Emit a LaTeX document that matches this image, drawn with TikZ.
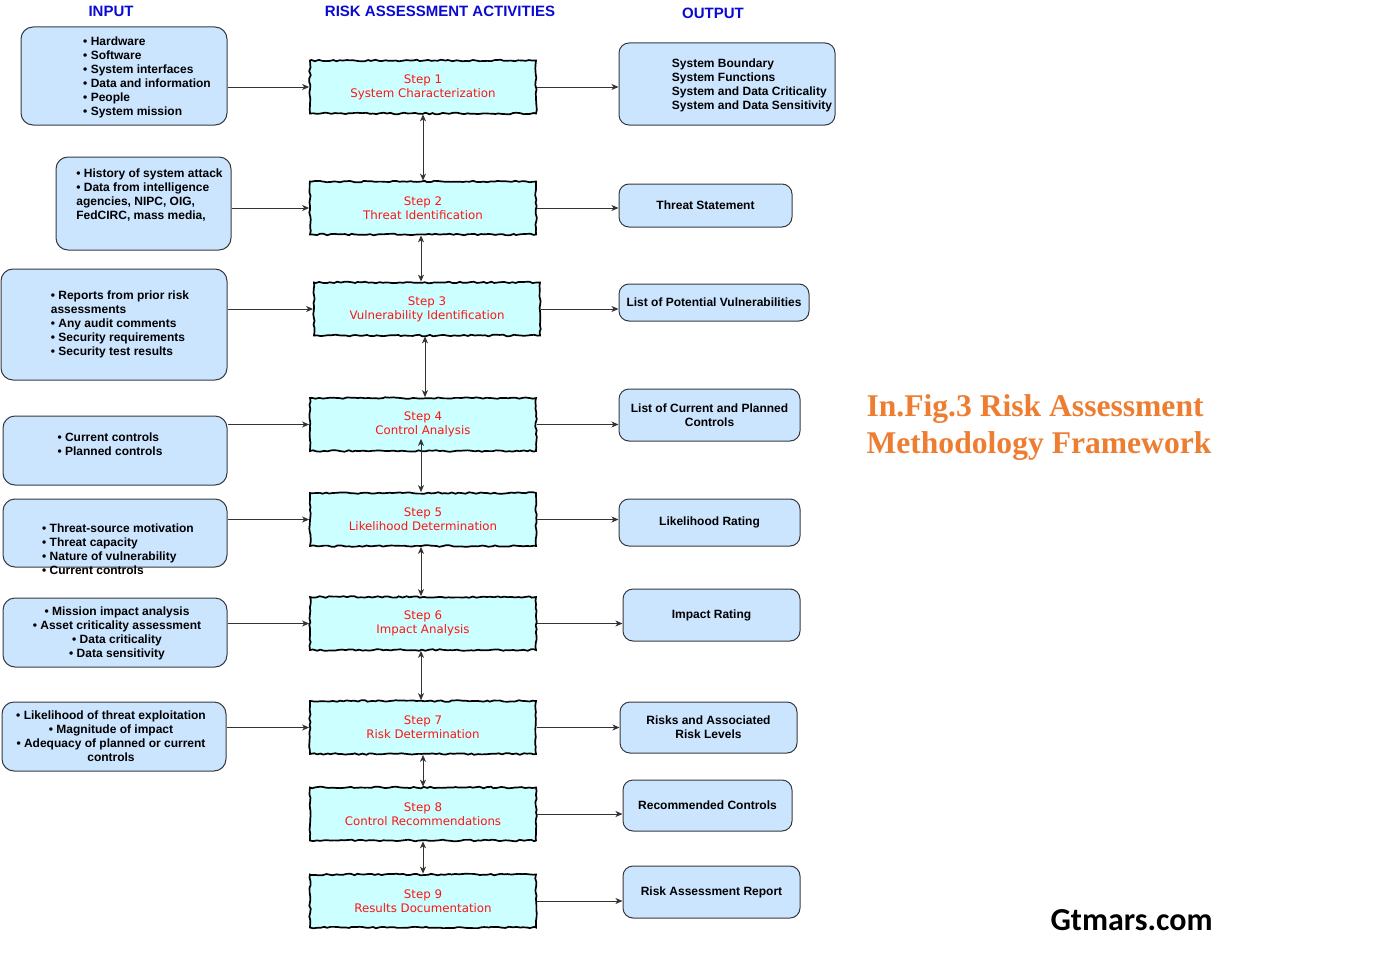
\documentclass[tikz,border=0pt]{standalone}
\usepackage{fontspec}
\setmainfont{Liberation Sans}
\newfontfamily\stepfont{DejaVu Sans}
\newfontfamily\capfont{Liberation Serif}
\newfontfamily\sitefont{Carlito}
\usetikzlibrary{arrows.meta,decorations.pathmorphing}

% text block inside a box, shifted by (dx,dy)
\newcommand{\boxtxt}[4]{\hspace*{#2}\raisebox{#3}[\height][\depth]{\begin{tabular}{@{}#1@{}}#4\end{tabular}}\hspace*{-#2}}

\begin{document}
\begin{tikzpicture}[x=1pt, y=-1pt,
    inbox/.style={draw=boxline, fill=inblue, line width=1pt, rounded corners=12pt,
        inner sep=0pt, font=\bfseries\fontsize{12}{14}\selectfont},
    outbox/.style={draw=boxline, fill=inblue, line width=1pt, rounded corners=10pt,
        inner sep=0pt, align=center, font=\bfseries\fontsize{12}{14}\selectfont},
    stepbox/.style={draw=black, fill=stepcyan, line width=1.7pt,
        decorate, decoration={random steps, segment length=3.5pt, amplitude=0.8pt},
        minimum width=226pt, minimum height=53pt, align=center,
        text=stepred, font=\stepfont\fontsize{11.8}{14}\selectfont},
    head/.style={text=headblue, font=\bfseries\fontsize{15}{18}\selectfont},
    link/.style={draw=linegray, line width=1pt, -{Stealth[length=7pt,width=6pt,inset=2pt]}},
    dlink/.style={draw=linegray, line width=1pt,
        {Stealth[length=7pt,width=6pt,inset=2pt]}-{Stealth[length=7pt,width=6pt,inset=2pt]}}]
\definecolor{inblue}{RGB}{204,229,255}
\definecolor{boxline}{RGB}{54,57,61}
\definecolor{stepcyan}{RGB}{204,255,255}
\definecolor{stepred}{RGB}{255,20,20}
\definecolor{headblue}{RGB}{10,10,210}
\definecolor{capor}{RGB}{237,125,49}
\definecolor{linegray}{RGB}{51,51,51}
\pgfmathsetseed{7}

\useasboundingbox (0,0) rectangle (1400,958);

% ===================== titoli =====================
\node[head] (hin)   at (111,11) {INPUT};
\node[head] (hrisk) at (440,11) {RISK ASSESSMENT ACTIVITIES};
\node[head] (hout)  at (713,13) {OUTPUT};

% ===================== input =====================
\node[inbox, minimum width=206pt, minimum height=98pt] (i1) at (124,76)
  {\boxtxt{l}{23pt}{-1.5pt}{\textbullet\ Hardware\\ \textbullet\ Software\\ \textbullet\ System interfaces\\
   \textbullet\ Data and information\\ \textbullet\ People\\ \textbullet\ System mission}};
\node[inbox, minimum width=175pt, minimum height=93pt] (i2) at (143.5,203.5)
  {\boxtxt{l}{6pt}{8pt}{\textbullet\ History of system attack\\ \textbullet\ Data from intelligence\\
   agencies, NIPC, OIG,\\ FedCIRC, mass media,}};
\node[inbox, minimum width=226pt, minimum height=111pt] (i3) at (114,324.5)
  {\boxtxt{l}{6pt}{0pt}{\textbullet\ Reports from prior risk\\ assessments\\ \textbullet\ Any audit comments\\
   \textbullet\ Security requirements\\ \textbullet\ Security test results}};
\node[inbox, minimum width=224pt, minimum height=69pt] (i4) at (115,450.5)
  {\boxtxt{l}{-5pt}{5pt}{\textbullet\ Current controls\\ \textbullet\ Planned controls}};
\node[inbox, minimum width=224pt, minimum height=68pt] (i5) at (115,533)
  {\boxtxt{l}{3pt}{-17.5pt}{\textbullet\ Threat-source motivation\\ \textbullet\ Threat capacity\\
   \textbullet\ Nature of vulnerability\\ \textbullet\ Current controls}};
\node[inbox, minimum width=224pt, minimum height=69pt] (i6) at (115,632.5)
  {\boxtxt{c}{2pt}{-1.5pt}{\textbullet\ Mission impact analysis\\ \textbullet\ Asset criticality assessment\\
   \textbullet\ Data criticality\\ \textbullet\ Data sensitivity}};
\node[inbox, minimum width=224pt, minimum height=69pt] (i7) at (114,736.5)
  {\boxtxt{c}{-3pt}{-1.5pt}{\textbullet\ Likelihood of threat exploitation\\ \textbullet\ Magnitude of impact\\
   \textbullet\ Adequacy of planned or current\\ controls}};

% ===================== step =====================
\foreach \n/\x/\y/\t in {1/423/87/System Characterization,
                        2/423/208/Threat Identification,
                        3/427/309/Vulnerability Identification,
                        4/423/424.5/Control Analysis,
                        5/423/519.5/Likelihood Determination,
                        6/423/623.5/Impact Analysis,
                        7/423/727.5/Risk Determination,
                        8/423/814/Control Recommendations,
                        9/423/901/Results Documentation}
  \node[stepbox] (s\n) at (\x,\y) {Step \n\\\t};

% ===================== output =====================
\node[outbox, minimum width=216pt, minimum height=82pt] (o1) at (727,84)
  {\boxtxt{l}{25pt}{-1.5pt}{System Boundary\\ System Functions\\ System and Data Criticality\\ System and Data Sensitivity}};
\node[outbox, minimum width=173pt, minimum height=43pt] (o2) at (705.5,205.5) {Threat Statement};
\node[outbox, minimum width=190pt, minimum height=37pt] (o3) at (714,302.5) {List of Potential Vulnerabilities};
\node[outbox, minimum width=181pt, minimum height=52pt] (o4) at (709.5,415) {List of Current and Planned\\Controls};
\node[outbox, minimum width=181pt, minimum height=47pt] (o5) at (709.5,522.5) {Likelihood Rating};
\node[outbox, minimum width=177pt, minimum height=52pt] (o6) at (711.5,615) {Impact Rating};
\node[outbox, minimum width=177pt, minimum height=51pt] (o7) at (708.5,727.5) {Risks and Associated\\Risk Levels};
\node[outbox, minimum width=169pt, minimum height=51pt] (o8) at (707.5,805.5) {Recommended Controls};
\node[outbox, minimum width=177pt, minimum height=52pt] (o9) at (711.5,892) {Risk Assessment Report};

% ===================== frecce =====================
\foreach \n in {1,...,7}
  \draw[link] (i\n.east |- s\n.west) -- (s\n.west);
\foreach \n in {1,...,9}
  \draw[link] (s\n.east) -- (o\n.west |- s\n.east);
\foreach \a/\b in {1/2,7/8,8/9}
  \draw[dlink] (s\a.south) -- (s\a.south |- s\b.north);
\foreach \a/\b in {2/3,3/4,5/6,6/7}
  \draw[dlink] ([xshift=-2pt]s\a.south) -- ([xshift=-2pt]s\a.south |- s\b.north);
\draw[dlink] ([xshift=-2pt,yshift=13pt]s4.south) -- ([xshift=-2pt]s5.north);

% ===================== didascalia =====================
\node[anchor=west, align=left, text=capor, font=\capfont\bfseries\fontsize{31.6}{37}\selectfont]
  (cap) at (863,428) {In.Fig.3 Risk Assessment\\Methodology Framework};
\node[anchor=west, font=\sitefont\bfseries\fontsize{32}{36}\selectfont] (site) at (1047,920) {Gtmars.com};

\end{tikzpicture}
\end{document}
